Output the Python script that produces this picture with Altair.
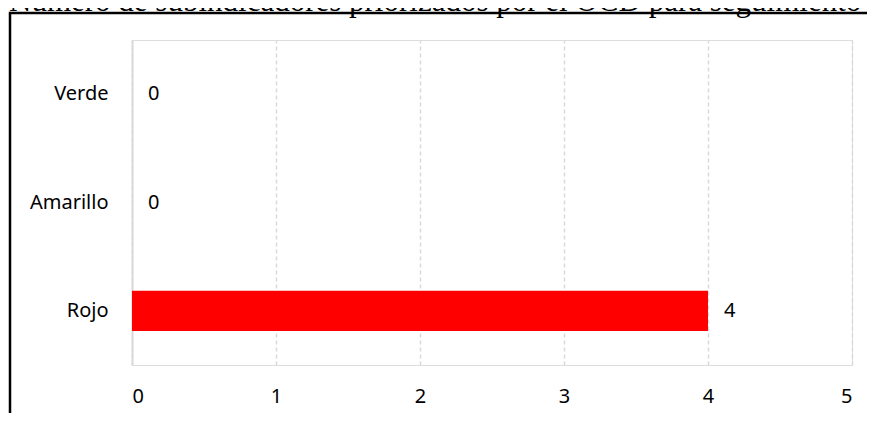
import altair as alt
import pandas as pd

categories = ["Verde", "Amarillo", "Rojo"]
values = [0, 0, 4]
bar_colors = ["#00b050", "#ffc000", "#ff0000"]
x_ticks = [0, 1, 2, 3, 4, 5]
title_text = "Número de subindicadores priorizados por el OCD para seguimiento"

df = pd.DataFrame({"categoria": categories, "valor": values, "color": bar_colors})

y_enc = alt.Y(
    "categoria:N",
    sort=categories,
    title=None,
    scale=alt.Scale(paddingInner=0.63, paddingOuter=0.315),
    axis=alt.Axis(
        ticks=False,
        domain=True,
        domainColor="#d9d9d9",
        domainWidth=2,
        labelFont="Noto Sans",
        labelFontSize=20,
        labelColor="#000000",
        labelPadding=24,
        grid=False,
    ),
)

x_enc = alt.X(
    "valor:Q",
    title=None,
    scale=alt.Scale(domain=[0, 5], nice=False),
    axis=alt.Axis(
        values=x_ticks,
        ticks=False,
        domain=False,
        grid=True,
        gridColor="#d9d9d9",
        gridWidth=1.5,
        gridDash=[4, 3],
        labelFont="Noto Sans",
        labelFontSize=20,
        labelColor="#000000",
        labelPadding=21,
        format="d",
    ),
)

base = alt.Chart(df)

bars = base.mark_bar().encode(
    x=x_enc,
    y=y_enc,
    color=alt.Color("color:N", scale=None, legend=None),
)

labels = base.mark_text(
    align="left", baseline="middle", dx=16, font="Noto Sans", fontSize=20, color="#000000"
).encode(
    x=alt.X("valor:Q"),
    y=alt.Y("categoria:N", sort=categories),
    text=alt.Text("valor:Q", format="d"),
)

frame = alt.Chart(pd.DataFrame({"k": [0]})).mark_rect(
    fill=None, stroke="#000000", strokeWidth=2.5
).encode(
    x=alt.value(-122),
    x2=alt.value(780),
    y=alt.value(-27),
    y2=alt.value(420),
)

title = alt.Chart(pd.DataFrame({"t": [title_text]})).mark_text(
    align="left", baseline="alphabetic", font="Liberation Serif", fontSize=31, color="#000000"
).encode(
    x=alt.value(-123),
    y=alt.value(-29),
    text="t:N",
)

chart = (
    alt.layer(bars, labels, frame, title)
    .properties(
        width=720,
        height=325,
        padding={"left": 124, "top": 32, "right": 15, "bottom": 48},
        autosize=alt.AutoSizeParams(type="none"),
    )
    .configure_view(stroke=None)
    .configure(background="#ffffff")
)

chart.save("out.html", embed_options={"renderer": "svg", "actions": False})
